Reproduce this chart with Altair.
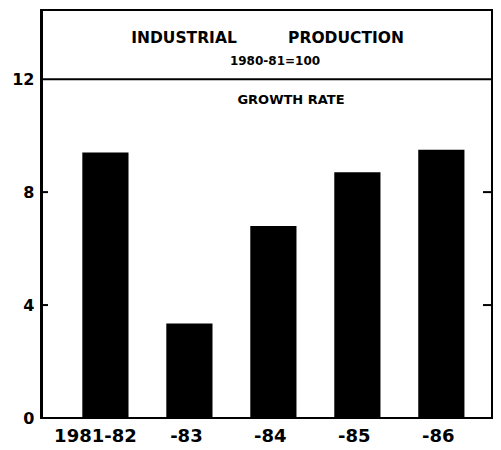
import altair as alt
import pandas as pd

# --- data ---
years = ["1981-82", "-83", "-84", "-85", "-86"]
growth = [9.4, 3.35, 6.8, 8.7, 9.5]
y_tick_values = [0, 4, 8, 12]
inner_tick_values = [4, 8]
divider_value = [12]
title_words = ["INDUSTRIAL", "PRODUCTION"]
base_label = "1980-81=100"
panel_label = "GROWTH RATE"

W, H = 451, 408
YMAX = 14.45
FONT = "DejaVu Sans"

yscale = alt.Scale(domain=[0, YMAX], nice=False, zero=True)
yaxis = alt.Axis(
    title=None, values=y_tick_values, ticks=False, grid=False,
    domainColor="black", domainWidth=3, labelFont=FONT,
    labelFontWeight="bold", labelFontSize=16, labelColor="black",
    labelPadding=7,
)

bars_df = pd.DataFrame({"year": years, "value": growth})

bars = alt.Chart(bars_df).mark_bar(color="black").encode(
    x=alt.X(
        "year:N",
        sort=years,
        scale=alt.Scale(paddingInner=0.45, paddingOuter=0.41, align=0.6),
        axis=alt.Axis(
            title=None, labelAngle=0, ticks=False, domain=False,
            labelFont=FONT, labelFontWeight="bold", labelFontSize=18,
            labelColor="black", labelPadding=9,
            labelOffset=alt.expr("datum.value == '1981-82' ? -10 : -3"),
        ),
    ),
    y=alt.Y("value:Q", scale=yscale, axis=yaxis),
)

div_df = pd.DataFrame({"value": divider_value})
divider = alt.Chart(div_df).mark_rule(color="black", strokeWidth=2).encode(
    y=alt.Y("value:Q", scale=yscale, axis=yaxis),
    x=alt.value(0),
    x2=alt.value(W),
)

tick_df = pd.DataFrame({"value": inner_tick_values})
left_ticks = alt.Chart(tick_df).mark_rule(color="black", strokeWidth=2).encode(
    y=alt.Y("value:Q", scale=yscale, axis=yaxis),
    x=alt.value(0),
    x2=alt.value(7),
)
right_ticks = alt.Chart(tick_df).mark_rule(color="black", strokeWidth=2).encode(
    y=alt.Y("value:Q", scale=yscale, axis=yaxis),
    x=alt.value(W - 9),
    x2=alt.value(W),
)

def label(text, size, x, y):
    return alt.Chart(pd.DataFrame({"t": [text]})).mark_text(
        font=FONT, fontSize=size, fontWeight="bold", color="black",
        align="center", baseline="middle",
    ).encode(text="t:N", x=alt.value(x), y=alt.value(y))

t1 = label(title_words[0], 15.5, 143, 28)
t2 = label(title_words[1], 15.5, 305, 28)
t3 = label(base_label, 12, 234, 51)
t4 = label(panel_label, 13, 250, 90)

chart = alt.layer(bars, divider, left_ticks, right_ticks, t1, t2, t3, t4).properties(
    width=W,
    height=H,
    autosize="none",
    padding={"left": 33, "top": 2, "right": 1, "bottom": 28},
    background="white",
).configure_view(stroke="black", strokeWidth=2)

chart.save("out.html", embed_options={"renderer": "svg", "actions": False})
